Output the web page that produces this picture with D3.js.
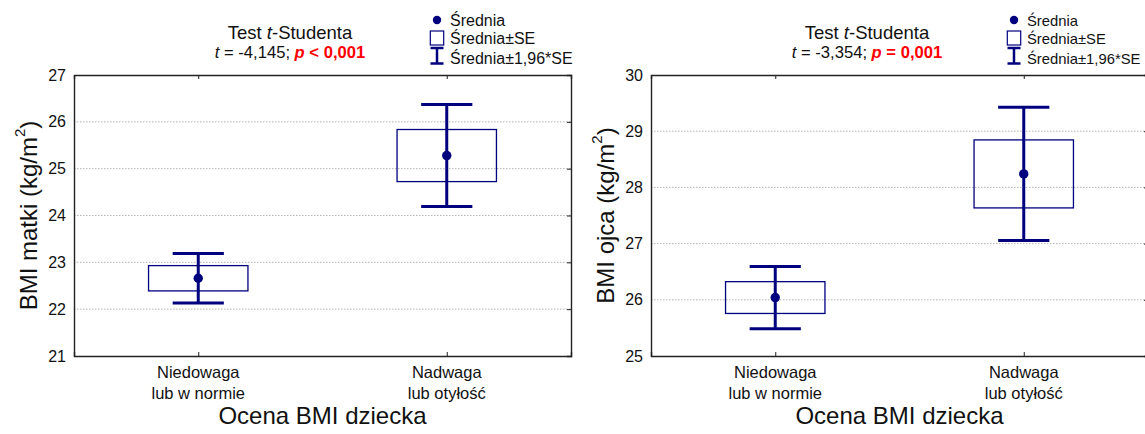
<!DOCTYPE html>
<html>
<head>
<meta charset="utf-8">
<script src="https://cdn.jsdelivr.net/npm/d3@7/dist/d3.min.js"></script>
<style>
  html, body { margin: 0; padding: 0; background: #fff; }
  svg { display: block; font-family: "Liberation Sans", Arial, sans-serif; }
</style>
</head>
<body>
<svg id="chart" width="1145" height="434"></svg>
<script>
// Child BMI groups (x axis categories), each label split into two lines
const categories = [["Niedowaga", "lub w normie"], ["Nadwaga", "lub otyłość"]];

// Mother's BMI: group means and standard errors
const motherMean = [22.66, 25.28];
const motherSE = [0.27, 0.556];
const motherTicks = [21, 22, 23, 24, 25, 26, 27];

// Father's BMI: group means and standard errors
const fatherMean = [26.04, 28.24];
const fatherSE = [0.283, 0.605];
const fatherTicks = [25, 26, 27, 28, 29, 30];

// Student's t-test results
const testT = ["-4,145", "-3,354"];
const testP = ["< 0,001", "= 0,001"];

const yLabels = ["BMI matki (kg/m", "BMI ojca (kg/m"];
const xLabel = "Ocena BMI dziecka";
const legendLabels = ["Średnia", "Średnia±SE", "Średnia±1,96*SE"];

const Z = 1.96;
const NAVY = "#00007f";

const svg = d3.select("#chart");

const panels = [
  { left: 74, right: 571, legendFont: 16, mean: motherMean, se: motherSE, ticks: motherTicks, yLabel: yLabels[0], t: testT[0], p: testP[0] },
  { left: 651, right: 1148, legendFont: 14.8, mean: fatherMean, se: fatherSE, ticks: fatherTicks, yLabel: yLabels[1], t: testT[1], p: testP[1] }
];
const plotTop = 75, plotBottom = 356;

panels.forEach(pn => {
  const g = svg.append("g");
  const x = d3.scaleLinear().domain([0.5, 2.5]).range([pn.left, pn.right]);
  const y = d3.scaleLinear().domain(d3.extent(pn.ticks)).range([plotBottom, plotTop]);

  // dotted horizontal grid
  g.append("g").selectAll("line")
    .data(pn.ticks.slice(1, -1))
    .join("line")
    .attr("x1", pn.left).attr("x2", pn.right)
    .attr("y1", d => y(d)).attr("y2", d => y(d))
    .attr("stroke", "#b4b4b4").attr("stroke-width", 1)
    .attr("stroke-dasharray", "1.5,1.5");

  // axes (ticks point into the plot)
  const xt = categories.map((c, i) => i + 1);
  const axL = g.append("g").attr("transform", `translate(${pn.left},0)`)
    .call(d3.axisLeft(y).tickValues(pn.ticks).tickSize(0).tickPadding(8).tickFormat(d3.format("d")));
  const axB = g.append("g").attr("transform", `translate(0,${plotBottom})`)
    .call(d3.axisBottom(x).tickValues(xt).tickSize(-4).tickFormat(""));
  const axT = g.append("g").attr("transform", `translate(0,${plotTop})`)
    .call(d3.axisTop(x).tickValues(xt).tickSize(-4).tickFormat(""));
  const axR = g.append("g").attr("transform", `translate(${pn.right},0)`)
    .call(d3.axisRight(y).tickValues(pn.ticks.slice(1, -1)).tickSize(-4).tickFormat(""));
  [axL, axB, axT, axR].forEach(a => {
    a.select(".domain").attr("stroke", "#222").attr("stroke-width", 1.4);
    a.selectAll(".tick line").attr("stroke", "#222").attr("stroke-width", 1);
  });
  axL.selectAll(".tick text").attr("font-size", 16).attr("fill", "#111")
    .attr("font-family", "Liberation Sans, Arial, sans-serif");

  // category labels
  categories.forEach((lines, i) => {
    const t = g.append("text").attr("text-anchor", "middle")
      .attr("font-size", 16.5).attr("fill", "#111");
    lines.forEach((ln, k) => {
      t.append("tspan").attr("x", x(i + 1)).attr("y", 377.5 + k * 21).text(ln);
    });
  });

  // axis titles
  g.append("text").attr("x", (pn.left + pn.right) / 2).attr("y", 423.5)
    .attr("text-anchor", "middle").attr("font-size", 24).attr("fill", "#111").text(xLabel);
  const yt = g.append("text")
    .attr("transform", `translate(${pn.left - 37.5},${(plotTop + plotBottom) / 2}) rotate(-90)`)
    .attr("text-anchor", "middle").attr("font-size", 24).attr("fill", "#111");
  yt.append("tspan").text(pn.yLabel);
  yt.append("tspan").attr("font-size", 15).attr("dy", -12).text("2");
  yt.append("tspan").attr("dy", 12).text(")");

  // mean ± SE boxes and mean ± 1.96·SE whiskers
  const boxHalf = x(1.2) - x(1);
  const capHalf = x(1.103) - x(1);
  pn.mean.forEach((m, i) => {
    const cx = x(i + 1);
    g.append("rect")
      .attr("x", cx - boxHalf).attr("width", 2 * boxHalf)
      .attr("y", y(m + pn.se[i])).attr("height", y(m - pn.se[i]) - y(m + pn.se[i]))
      .attr("fill", "none").attr("stroke", NAVY).attr("stroke-width", 1.3);
    const hi = y(m + Z * pn.se[i]), lo = y(m - Z * pn.se[i]);
    g.append("line").attr("x1", cx).attr("x2", cx).attr("y1", hi).attr("y2", lo)
      .attr("stroke", NAVY).attr("stroke-width", 3);
    [hi, lo].forEach(v => g.append("line")
      .attr("x1", cx - capHalf).attr("x2", cx + capHalf).attr("y1", v).attr("y2", v)
      .attr("stroke", NAVY).attr("stroke-width", 3));
    g.append("circle").attr("cx", cx).attr("cy", y(m)).attr("r", 4.7).attr("fill", NAVY);
  });

  // test result heading
  const tc = pn.left + 216;
  const h1 = g.append("text").attr("x", tc).attr("y", 38.5).attr("text-anchor", "middle")
    .attr("font-size", 18.5).attr("fill", "#111");
  h1.append("tspan").text("Test ");
  h1.append("tspan").attr("font-style", "italic").text("t");
  h1.append("tspan").text("-Studenta");
  const h2 = g.append("text").attr("x", tc).attr("y", 57.5).attr("text-anchor", "middle")
    .attr("font-size", 16.6).attr("fill", "#111");
  h2.append("tspan").attr("font-style", "italic").text("t");
  h2.append("tspan").text(` = ${pn.t}; `);
  h2.append("tspan").attr("font-style", "italic").attr("font-weight", "bold").attr("fill", "#ff0000").text("p");
  h2.append("tspan").attr("font-weight", "bold").attr("fill", "#ff0000").text(` ${pn.p}`);

  // legend
  const lx = pn.left + 363;
  const lg = g.append("g");
  lg.append("circle").attr("cx", lx).attr("cy", 20).attr("r", 4.2).attr("fill", NAVY);
  lg.append("rect").attr("x", lx - 6.7).attr("y", 31).attr("width", 13.4).attr("height", 14)
    .attr("fill", "none").attr("stroke", NAVY).attr("stroke-width", 1.2);
  lg.append("line").attr("x1", lx).attr("x2", lx).attr("y1", 48).attr("y2", 63.5)
    .attr("stroke", NAVY).attr("stroke-width", 2.5);
  [48, 63.5].forEach(v => lg.append("line").attr("x1", lx - 6.5).attr("x2", lx + 6.5)
    .attr("y1", v).attr("y2", v).attr("stroke", NAVY).attr("stroke-width", 2.5));
  legendLabels.forEach((lab, k) => {
    lg.append("text").attr("x", lx + 13).attr("y", [25.5, 44, 63.5][k])
      .attr("font-size", pn.legendFont).attr("fill", "#111").text(lab);
  });
});
</script>
</body>
</html>
